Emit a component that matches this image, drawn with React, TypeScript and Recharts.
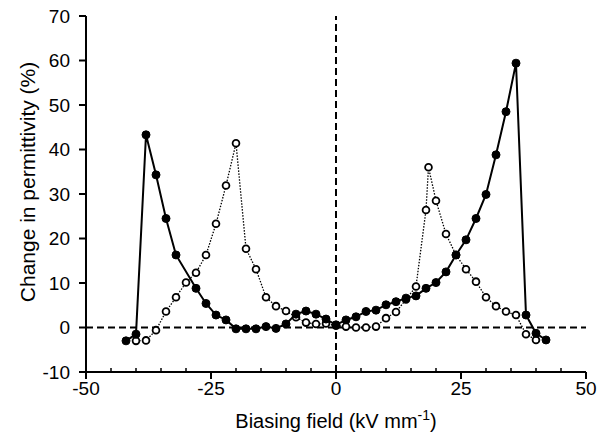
import { LineChart, Line, XAxis, YAxis, ReferenceLine, Label } from 'recharts'

// open circles, dotted line
const fieldOpen = [-40, -38, -36, -34, -32, -30, -28, -26, -24, -22, -20, -18, -16, -14, -12, -10, -8, -6, -4, -2, 0, 2, 4, 6, 8, 10, 12, 14, 16, 18, 18.5, 20, 22, 24, 26, 28, 30, 32, 34, 36, 38, 40]
const permOpen = [-3.0, -2.9, -0.6, 3.6, 6.8, 10.1, 12.3, 16.3, 23.3, 31.9, 41.4, 17.7, 13.1, 6.8, 4.8, 3.7, 2.3, 1.1, 0.8, 0.9, 0.4, 0.2, 0, 0, 0.2, 2.1, 3.5, 6.3, 9.2, 26.4, 36.0, 28.5, 21.0, 16.3, 13.1, 10.3, 6.8, 4.8, 3.6, 2.8, -1.5, -2.8]

// filled circles, solid line
const fieldFilled = [-42, -40, -38, -36, -34, -32, -28, -26, -24, -22, -20, -18, -16, -14, -12, -10, -8, -6, -4, -2, 0, 2, 4, 6, 8, 10, 12, 14, 16, 18, 20, 22, 24, 26, 28, 30, 32, 34, 36, 38, 40, 42]
const permFilled = [-3.0, -1.5, 43.3, 34.3, 24.5, 16.3, 8.8, 5.4, 2.8, 1.7, -0.3, -0.3, -0.3, 0.2, -0.2, 0.8, 3.0, 3.7, 3.0, 1.9, 0.6, 1.7, 2.4, 3.6, 3.9, 5.1, 5.8, 6.6, 7.1, 8.8, 10.1, 12.5, 16.3, 19.7, 24.5, 29.9, 38.8, 48.5, 59.4, 2.8, -1.3, -2.8]

const xTicks = [-50, -45, -40, -35, -30, -25, -20, -15, -10, -5, 0, 5, 10, 15, 20, 25, 30, 35, 40, 45, 50]
const yTicks = [-10, 0, 10, 20, 30, 40, 50, 60, 70]

const openData = fieldOpen.map((x, i) => ({ x, y: permOpen[i] }))
const filledData = fieldFilled.map((x, i) => ({ x, y: permFilled[i] }))

const FONT = '"Liberation Sans", Arial, sans-serif'
const TICK_SIZE = 7
const TICK_MARGIN = 3

function XTick(props: any) {
  const { x, y, payload } = props
  const axisY = y - TICK_SIZE - TICK_MARGIN
  const major = payload.value % 25 === 0
  if (!major) {
    return <line x1={x} x2={x} y1={axisY} y2={axisY - 4} stroke="#000" strokeWidth={1.5} />
  }
  return (
    <g>
      <line x1={x} x2={x} y1={axisY} y2={axisY + TICK_SIZE} stroke="#000" strokeWidth={2} />
      <text x={x} y={y} dy="0.71em" textAnchor="middle" fontSize={19} fontFamily={FONT} fill="#000">
        {payload.value}
      </text>
    </g>
  )
}

function XTitle(props: any) {
  const { viewBox } = props
  const cx = viewBox.x + viewBox.width / 2
  return (
    <text x={cx} y={viewBox.y + 56} textAnchor="middle" fontSize={20} fontFamily={FONT} fill="#000">
      Biasing field (kV mm
      <tspan dy={-8} fontSize={14}>-1</tspan>
      <tspan dy={8}>)</tspan>
    </text>
  )
}

function YTitle(props: any) {
  const { viewBox } = props
  const cx = 27
  const cy = viewBox.y + viewBox.height / 2 - 12
  return (
    <text
      x={cx}
      y={cy}
      transform={`rotate(-90 ${cx} ${cy})`}
      textAnchor="middle"
      dominantBaseline="central"
      fontSize={21}
      fontFamily={FONT}
      fill="#000"
    >
      Change in permittivity (%)
    </text>
  )
}

export default function App() {
  return (
    <div style={{ position: 'absolute', left: 0, top: 0, background: '#fff' }}>
      <LineChart width={611} height={441} margin={{ top: 16, right: 25, bottom: 0, left: 0 }}>
        <XAxis
          dataKey="x"
          type="number"
          domain={[-50, 50]}
          ticks={xTicks}
          interval={0}
          height={69}
          tickSize={TICK_SIZE}
          tickMargin={TICK_MARGIN}
          tickLine={false}
          tick={<XTick />}
          axisLine={{ stroke: '#000', strokeWidth: 2 }}
          allowDuplicatedCategory={false}
        >
          <Label content={<XTitle />} />
        </XAxis>
        <XAxis
          xAxisId="top"
          orientation="top"
          type="number"
          domain={[-50, 50]}
          height={0}
          tick={false}
          tickLine={false}
          axisLine={{ stroke: '#000', strokeWidth: 2 }}
        />
        <YAxis
          type="number"
          domain={[-10, 70]}
          ticks={yTicks}
          interval={0}
          width={86}
          tickSize={7}
          tickMargin={9}
          tickLine={{ stroke: '#000', strokeWidth: 2 }}
          axisLine={{ stroke: '#000', strokeWidth: 2 }}
          tick={{ fill: '#000', fontSize: 19, fontFamily: FONT }}
        >
          <Label content={<YTitle />} />
        </YAxis>
        <YAxis
          yAxisId="right"
          orientation="right"
          type="number"
          domain={[-10, 70]}
          width={0}
          tick={false}
          tickLine={false}
          axisLine={{ stroke: '#000', strokeWidth: 2 }}
        />
        <ReferenceLine y={0} stroke="#000" strokeWidth={2} strokeDasharray="7 4" />
        <ReferenceLine x={0} stroke="#000" strokeWidth={2} strokeDasharray="7 4" />
        <Line
          data={openData}
          dataKey="y"
          type="linear"
          stroke="#000"
          strokeWidth={1.3}
          strokeDasharray="1.5 1.5"
          dot={{ r: 3.4, fill: '#fff', stroke: '#000', strokeWidth: 1.8, strokeDasharray: '' }}
          isAnimationActive={false}
        />
        <Line
          data={filledData}
          dataKey="y"
          type="linear"
          stroke="#000"
          strokeWidth={2}
          dot={{ r: 4, fill: '#000', stroke: '#000', strokeWidth: 1 }}
          isAnimationActive={false}
        />
      </LineChart>
    </div>
  )
}
